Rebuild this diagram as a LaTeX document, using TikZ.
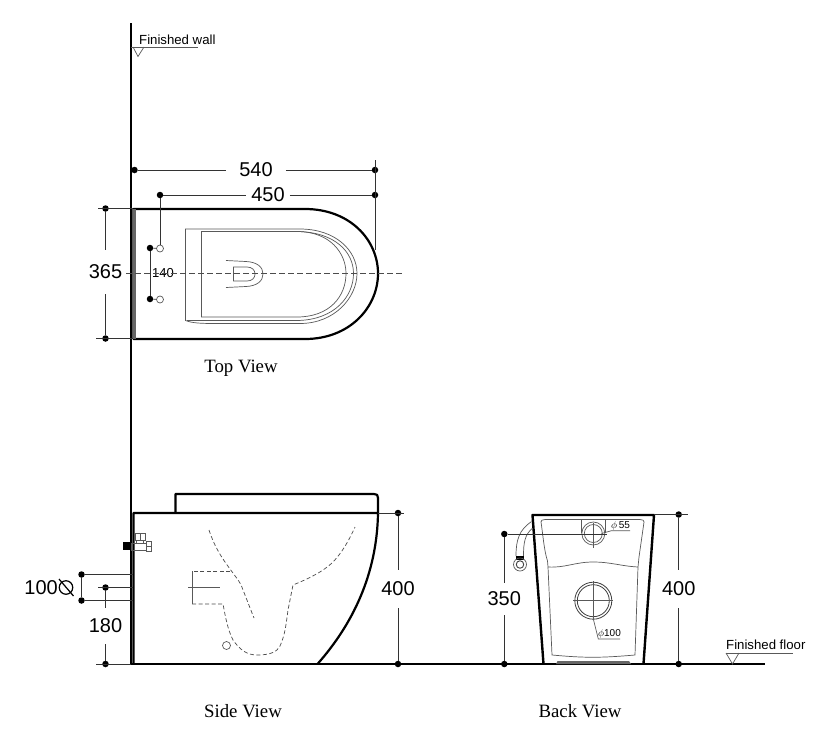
\documentclass[tikz,border=0pt]{standalone}
\usepackage{fontspec}
\setmainfont{Liberation Sans}
\newfontfamily\viewfont{Liberation Serif}
\begin{document}
\begin{tikzpicture}[x=1pt,y=-1pt]
	\tikzstyle{dimdot}=[circle,fill=black,inner sep=0pt,minimum size=6.5pt]
	\tikzstyle{dimnum}=[inner sep=0pt,font=\fontsize{20}{20}\selectfont]
	\tikzstyle{dimline}=[draw,black!80,line width=0.8pt]
	\tikzstyle{outline}=[draw,black,line width=2.2pt,line join=round]
	\tikzstyle{thinline}=[draw,black!65,line width=0.7pt]
	\tikzstyle{hidden}=[draw,black!70,line width=0.7pt,dash pattern=on 4pt off 2.5pt]
	\tikzstyle{viewname}=[font=\viewfont\fontsize{18.8}{19}\selectfont]
	\tikzstyle{levelname}=[font=\fontsize{13.2}{14}\selectfont,inner sep=0pt]
	\tikzstyle{hole}=[circle,draw,black!65,line width=0.7pt,inner sep=0pt,minimum size=7pt]
	\useasboundingbox (0,0) rectangle (830,745);
	\fill[white] (0,0) rectangle (830,745);

	% wall and floor
	\coordinate (walltop) at (131,23);
	\coordinate (wallfoot) at (131,664);
	\coordinate (floorend) at (765,664);
	\path[outline] (walltop) -- (wallfoot) -- (floorend);

	% levels
	\node [levelname,anchor=west] (wallname) at (139,40) {Finished wall};
	\coordinate (wallrule) at (198,47);
	\coordinate (wallrulea) at (131,47);
	\path[thinline] (wallrulea) -- (wallrule);
	\path[thinline] (133,47) -- (138,56.5) -- (144,47);
	\node [levelname,anchor=west] (floorname) at (726,645) {Finished floor};
	\coordinate (floorrule) at (793,653);
	\coordinate (floorrulea) at (726,653);
	\path[thinline] (floorrulea) -- (floorrule);
	\path[thinline] (726,653) -- (732.5,664) -- (739,653);

	% top view
	\path[outline] (133.5,209) -- (305,209) .. controls (350,209) and (378,240) .. (378,273.5)
		.. controls (378,307) and (350,339) .. (305,339) -- (133.5,339) -- cycle;
	\fill[black!60] (133,209) rectangle (135.5,339);
	\path[thinline] (185.5,229) -- (300,229) .. controls (335,229) and (357,250) .. (357,273.5)
		.. controls (357,297) and (335,323.5) .. (300,323.5) -- (215,323.5) .. controls (200,323.5) and (192,323) .. (185.5,320.5) -- cycle;
	\path[thinline] (201.5,231.5) -- (297,231.5) .. controls (330,231.5) and (346,253) .. (346,273.5)
		.. controls (346,296) and (330,317) .. (297,317) -- (201.5,317) -- cycle;
	\path[thinline] (297,231.5) .. controls (335,232) and (353.5,252) .. (353.5,273.5)
		.. controls (353.5,296) and (335,320) .. (297,320.5) -- (187,320.5);
	\path[thinline] (233.5,267) -- (247,267) .. controls (252,267) and (255,270) .. (255,274)
		.. controls (255,278) and (252,281) .. (247,281) -- (233.5,281) -- cycle;
	\path[thinline] (226,260.5) -- (246,261.5) .. controls (257,262) and (263,267) .. (263,274)
		.. controls (263,281) and (257,286) .. (246,286.5) -- (226,287.5);
	\node [hole] (holea) at (160,248.5) {};
	\node [hole] (holeb) at (160,299.5) {};

	\node [dimdot] (w1) at (134.5,170) {};
	\node [dimdot] (w2) at (375,170) {};
	\node [dimnum,inner xsep=13pt] (w) at (256,170) {540};
	\node [dimdot] (u1) at (160,195) {};
	\node [dimdot] (u2) at (375,195) {};
	\node [dimnum,inner xsep=5pt] (u) at (268,195) {450};
	\coordinate (wdrop) at (375,160);
	\coordinate (wend) at (375,250);
	\node [dimdot] (h1) at (105.5,208.5) {};
	\node [dimdot] (h2) at (105.5,338.5) {};
	\node [dimnum,inner ysep=15pt] (h) at (105.5,272) {365};
	\coordinate (h1a) at (98,208.5);
	\coordinate (h1b) at (133,208.5);
	\coordinate (h2a) at (96,338.5);
	\coordinate (h2b) at (133,338.5);
	\node [dimdot] (p1) at (150,248) {};
	\node [dimdot] (p2) at (150,299) {};
	\node [inner sep=0pt,font=\fontsize{13}{13}\selectfont] (p) at (163,273.5) {140};
	\coordinate (axisa) at (126,273.5);
	\coordinate (axisb) at (404,273.5);
	\path[hidden,dash pattern=on 6pt off 3pt] (axisa) -- (axisb);
	\path[dimline] (w1) edge (w) (w) edge (w2) (u1) edge (u) (u) edge (u2);
	\path[dimline] (wdrop) edge (wend) (u1) edge (holea) (h1) edge (h) (h) edge (h2);
	\path[dimline] (h1a) edge (h1b) (h2a) edge (h2b) (p1) edge (p2) (p1) edge (holea) (p2) edge (holeb);
	\node [viewname] (topname) at (241,368.5) {Top View};

	% side view
	\path[outline] (133.5,664) -- (133.5,513) -- (378,513) .. controls (377,575) and (352,625) .. (317.5,664);
	\path[outline] (175.5,513) -- (175.5,494) -- (374,494) .. controls (377,494) and (378,495) .. (378,498) -- (378,513);
	\fill[black] (123,542) rectangle (130.5,549.5);
	\path[thinline] (135,533) rectangle (145,540) (140,533) -- (140,540);
	\path[thinline] (131,543) rectangle (146,550) (146,541) rectangle (151.5,551) (146,546) -- (151.5,546);
	\path[thinline] (136,540) -- (136,543) (143,540) -- (143,543);
	\path[hidden] (209,530) .. controls (215,548) and (222,558) .. (230,569) .. controls (238,580) and (241,583) .. (243,590) .. controls (247,600) and (250,608) .. (254,618);
	\path[hidden] (230,571) -- (192,571);
	\path[hidden] (192,604) -- (223,604) .. controls (226,620) and (228,630) .. (233,640) .. controls (240,650) and (247,655) .. (257,655) .. controls (270,655) and (277,652) .. (280,646) .. controls (285,635) and (286,625) .. (288,610) -- (293,585) .. controls (310,578) and (322,572) .. (332,563) .. controls (343,552) and (350,538) .. (355,527);
	\path[thinline] (192,571) -- (192,604);
	\coordinate (draina) at (188,587.5);
	\coordinate (drainb) at (220,587.5);
	\path[thinline] (draina) -- (drainb);
	\node [hole,minimum size=8pt] (inlet) at (226.5,645.5) {};

	\node [dimdot] (s1) at (398,513) {};
	\node [dimdot] (s2) at (398,664) {};
	\node [dimnum,inner ysep=12pt] (s) at (398,589) {400};
	\coordinate (s1a) at (378,513);
	\coordinate (s1b) at (404,513);
	\path[dimline] (s1) edge (s) (s) edge (s2) (s1a) edge (s1b);
	\node [dimdot] (d1) at (81.5,574.5) {};
	\node [dimdot] (d2) at (81.5,600.5) {};
	\node [dimnum,anchor=east] (d) at (58,588) {100};
	\node [circle,draw,line width=1.2pt,inner sep=0pt,minimum size=13.5pt] (dsign) at (66,587.5) {};
	\coordinate (dslasha) at (59,579);
	\coordinate (dslashb) at (73.5,596);
	\path[draw,line width=1.2pt] (dslasha) -- (dslashb);
	\coordinate (d1b) at (133,574.5);
	\coordinate (d2b) at (133,600.5);
	\path[dimline] (d1) edge (d2) (d1) edge (d1b) (d2) edge (d2b);
	\node [dimdot] (g1) at (105.5,587.5) {};
	\node [dimdot] (g2) at (105.5,664) {};
	\node [dimnum,inner ysep=11pt] (g) at (105.5,626) {180};
	\coordinate (g1a) at (98,587.5);
	\coordinate (g1b) at (133,587.5);
	\coordinate (g2a) at (96,664);
	\path[dimline] (g1) edge (g) (g) edge (g2) (g1a) edge (g1b) (g2a) edge (wallfoot);
	\node [viewname] (sidename) at (243,711.5) {Side View};

	% back view
	\path[outline,line width=2.4pt] (543.5,664) -- (532.5,515) -- (654,515) -- (643.5,664);
	\path[thinline] (545,519.5) -- (640,519.5) .. controls (643,519.5) and (644,520.5) .. (644,522) -- (639,557) -- (638,567) -- (635,655) .. controls (600,658) and (585,658) .. (552,655) -- (548,567) -- (547.5,561) .. controls (544,550) and (543,535) .. (541,522) .. controls (541,520.5) and (542,519.5) .. (545,519.5) -- cycle;
	\path[thinline] (548,567) .. controls (565,568) and (575,562) .. (593,562) .. controls (611,562) and (620,566) .. (638,567);
	\fill[black!60] (556,664) -- (557.5,661) -- (629,661) -- (631,664) -- cycle;
	\path[thinline] (581,519) -- (581,533) (605,519) -- (605,533);
	\node [circle,draw,black!65,line width=0.7pt,minimum size=23pt,inner sep=0pt] (flusho) at (593.3,533.5) {};
	\node [circle,draw,black!65,line width=0.7pt,minimum size=18pt,inner sep=0pt] (flushi) at (593.3,533.5) {};
	\coordinate (flusha) at (593.3,523);
	\coordinate (flushb) at (593.3,548);
	\path[thinline] (flusha) -- (flushb);
	\node [circle,draw,black!75,line width=0.8pt,minimum size=37pt,inner sep=0pt] (wasteo) at (593.3,600.7) {};
	\node [circle,draw,black!75,line width=0.8pt,minimum size=32pt,inner sep=0pt] (wastei) at (593.3,600.7) {};
	\coordinate (wastel) at (573,600.7);
	\coordinate (waster) at (613,600.7);
	\coordinate (wastet) at (593.3,581);
	\coordinate (wasteb) at (593.3,620);
	\path[thinline] (wastel) -- (waster) (wastet) -- (wasteb);
	\path[thinline] (531.5,521.5) .. controls (519,530) and (516,540) .. (516,556);
	\path[thinline] (532,528.5) .. controls (525,535) and (523.5,542) .. (523.5,556);
	\fill[black] (516,556) rectangle (524,559.5);
	\node [circle,draw,black!65,line width=0.7pt,minimum size=13pt,inner sep=0pt] (hoseo) at (520,564.5) {};
	\node [circle,draw,black!75,line width=0.9pt,minimum size=7.5pt,inner sep=0pt] (hosei) at (520,564.5) {};

	\node [inner sep=0pt,font=\fontsize{10}{10}\selectfont] (phia) at (620.5,526) {$\phi$\,55};
	\coordinate (phiaa) at (601.5,533.5);
	\coordinate (phiab) at (611.5,530.7);
	\coordinate (phiac) at (630,530.7);
	\path[thinline] (phiaa) -- (phiab) -- (phiac);
	\node [inner sep=0pt,font=\fontsize{10}{10}\selectfont] (phib) at (609.5,634) {$\phi$100};
	\coordinate (phiba) at (593.3,619);
	\coordinate (phibb) at (598.3,639);
	\coordinate (phibc) at (620,639);
	\path[thinline] (phiba) -- (phibb) -- (phibc);

	\node [dimdot] (b1) at (504.3,534) {};
	\node [dimdot] (b2) at (504.3,664) {};
	\node [dimnum,inner ysep=9pt] (b) at (504.3,599) {350};
	\coordinate (b1r) at (606.5,534);
	\path[dimline] (b1) edge (b) (b) edge (b2) (b1) edge (b1r);
	\node [dimdot] (t1) at (678.7,514.5) {};
	\node [dimdot] (t2) at (678.7,664) {};
	\node [dimnum,inner ysep=12pt] (t) at (678.7,589) {400};
	\coordinate (t1a) at (654,514.5);
	\coordinate (t1b) at (688,514.5);
	\path[dimline] (t1) edge (t) (t) edge (t2) (t1a) edge (t1b);
	\node [viewname] (backname) at (580,711.5) {Back View};
\end{tikzpicture}
\end{document}
